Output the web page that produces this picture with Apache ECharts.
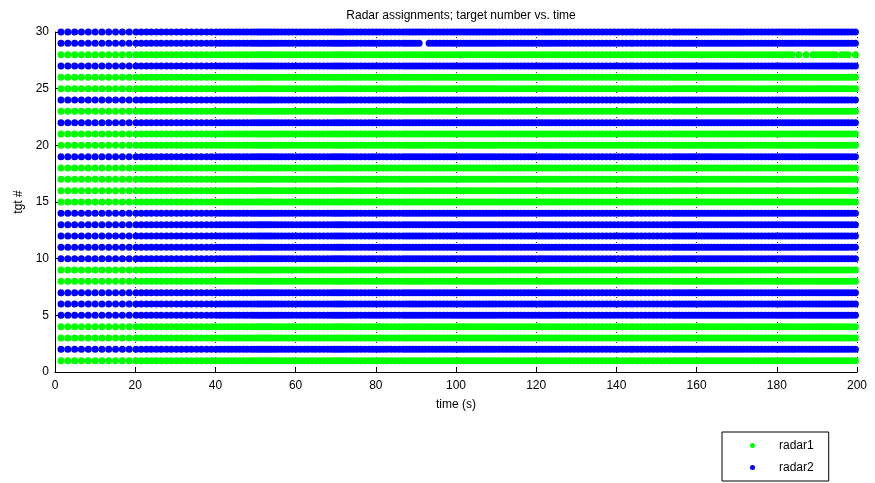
<!DOCTYPE html>
<html>
<head>
<meta charset="utf-8">
<script src="https://cdn.jsdelivr.net/npm/echarts@6/dist/echarts.min.js"></script>
<style>
  html, body { margin: 0; padding: 0; background: #fff; }
  #chart { width: 875px; height: 483px; }
</style>
</head>
<body>
<div id="chart"></div>
<script>
// Sample times (s) at which each target's assignment was logged
const times = [
  1.5, 3.2, 4.9, 6.6, 8.3, 10.0, 11.7, 13.4, 15.1, 16.8, 18.5, 20.2,
  21.5, 22.8, 24.0, 25.3, 26.5, 27.8, 29.0, 30.3, 31.5, 32.8, 34.0, 35.3, 36.5, 37.8, 39.0, 40.2,
  41.2, 42.2, 43.2, 44.1, 45.1, 46.0, 47.0, 47.9, 48.9, 49.7, 50.5, 51.2, 51.9, 52.6, 53.3, 54.0,
  54.8, 55.6, 56.5, 57.4, 58.3, 59.2, 60.2,
  61.2, 62.2, 63.1, 64.1, 65.0, 66.0, 67.0, 68.0, 68.9, 69.7, 70.4, 71.1, 71.8, 72.6, 73.5, 74.4,
  75.3, 76.3, 77.3, 78.3, 79.2, 80.1, 81.0, 81.9, 82.8, 83.8, 84.8, 85.8, 86.8, 87.6, 88.4, 89.2,
  90.0, 90.8, 91.6, 92.4, 93.3, 94.2, 95.1, 96.0, 96.9, 97.8, 98.7, 99.5,
  100.3, 101.1, 101.9, 102.7, 103.5, 104.3, 105.1, 105.9, 106.7, 107.5, 108.3, 109.1, 109.9,
  110.8, 111.7, 112.6, 113.5, 114.4, 115.3, 116.2, 117.1, 118.0, 118.9, 119.8,
  120.7, 121.5, 122.3, 123.1, 123.9, 124.8, 125.7, 126.6, 127.5, 128.5, 129.5, 130.5, 131.5,
  132.5, 133.5, 134.5, 135.5, 136.5, 137.5, 138.5, 139.5,
  140.5, 141.5, 142.5, 143.5, 144.2, 145.2, 146.2, 147.2, 148.2, 149.2, 150.2, 151.2, 152.2,
  153.2, 154.2, 154.9, 155.7, 156.5, 157.3, 158.1, 158.9, 159.7,
  160.5, 161.3, 162.1, 162.9, 163.7, 164.5, 165.3, 166.1, 166.9, 167.7, 168.5, 169.3, 170.1,
  170.9, 171.7, 172.6, 173.5, 174.4, 175.3, 176.2, 177.1, 178.0, 178.9, 179.8,
  180.6, 181.4, 182.2, 183.0, 183.8, 184.6, 185.5, 186.4, 187.3, 188.2, 189.0, 189.8, 190.6,
  191.4, 192.2, 193.0, 193.8, 194.6, 195.4, 196.2, 197.0, 197.8, 198.7, 199.6
];

// Radar assigned to target 1..30 (1 = radar1, 2 = radar2)
const assignedRadar = [
  1, 2, 1, 1, 2, 2, 2, 1, 1, 2,
  2, 2, 2, 2, 1, 1, 1, 1, 2, 1,
  1, 2, 1, 2, 1, 1, 2, 1, 2, 2
];

// Samples with no report, per target number
const droppedSamples = {
  28: [184.6, 186.4, 188.2, 195.4, 198.7],
  29: [91.6, 92.4]
};

const seriesNames = ['radar1', 'radar2'];
const seriesColors = ['#00ff00', '#0000ff'];

const xTicks = { min: 0, max: 200, step: 20 };
const yTicks = { min: 0, max: 30, step: 5 };

function pointsFor(radar) {
  const pts = [];
  assignedRadar.forEach((r, i) => {
    if (r !== radar) return;
    const tgt = i + 1;
    const skip = droppedSamples[tgt] || [];
    times.forEach(t => {
      if (skip.indexOf(t) === -1) pts.push([t, tgt]);
    });
  });
  return pts;
}

const font = '"Liberation Sans", Arial, Helvetica, sans-serif';
const chart = echarts.init(document.getElementById('chart'), null, { renderer: 'canvas' });

chart.setOption({
  animation: false,
  backgroundColor: '#ffffff',
  textStyle: { fontFamily: font },
  title: {
    text: 'Radar assignments; target number vs. time',
    left: 456,
    textAlign: 'center',
    top: 5,
    textStyle: { fontSize: 12, fontWeight: 'normal', color: '#000', fontFamily: font }
  },
  grid: { left: 55, right: 18, top: 32, bottom: 111, containLabel: false },
  legend: {
    orient: 'vertical',
    left: 722,
    top: 432,
    padding: [7, 15, 7, 28],
    itemGap: 9,
    itemWidth: 5,
    itemHeight: 5,
    icon: 'circle',
    borderColor: '#000',
    borderWidth: 1,
    backgroundColor: '#fff',
    textStyle: { fontSize: 12, lineHeight: 13, color: '#000', fontFamily: font, padding: [0, 0, 0, 19] },
    data: seriesNames
  },
  xAxis: {
    type: 'value',
    min: xTicks.min,
    max: xTicks.max,
    interval: xTicks.step,
    name: 'time (s)',
    nameLocation: 'middle',
    nameGap: 27,
    nameTextStyle: { fontSize: 12, color: '#000', fontFamily: font },
    axisLine: { lineStyle: { color: '#000', width: 1 } },
    axisTick: { inside: true, length: 5, lineStyle: { color: '#000' } },
    axisLabel: { fontSize: 12, color: '#000', margin: 8, fontFamily: font },
    splitLine: { show: true, lineStyle: { color: '#333', type: [1, 4], width: 1 } }
  },
  yAxis: {
    type: 'value',
    min: yTicks.min,
    max: yTicks.max,
    interval: yTicks.step,
    name: 'tgt #',
    nameLocation: 'middle',
    nameGap: 30,
    nameRotate: 90,
    nameTextStyle: { fontSize: 12, color: '#000', fontFamily: font },
    axisLine: { show: true, lineStyle: { color: '#000', width: 1 } },
    axisTick: { show: true, inside: true, length: 5, lineStyle: { color: '#000' } },
    axisLabel: { fontSize: 12, color: '#000', margin: 6, fontFamily: font },
    splitLine: { show: true, lineStyle: { color: '#333', type: [1, 4], width: 1 } }
  },
  series: seriesNames.map((name, k) => ({
    name: name,
    type: 'scatter',
    symbol: 'circle',
    symbolSize: 7,
    itemStyle: { color: seriesColors[k], opacity: 1 },
    emphasis: { disabled: true },
    data: pointsFor(k + 1)
  }))
});
</script>
</body>
</html>
